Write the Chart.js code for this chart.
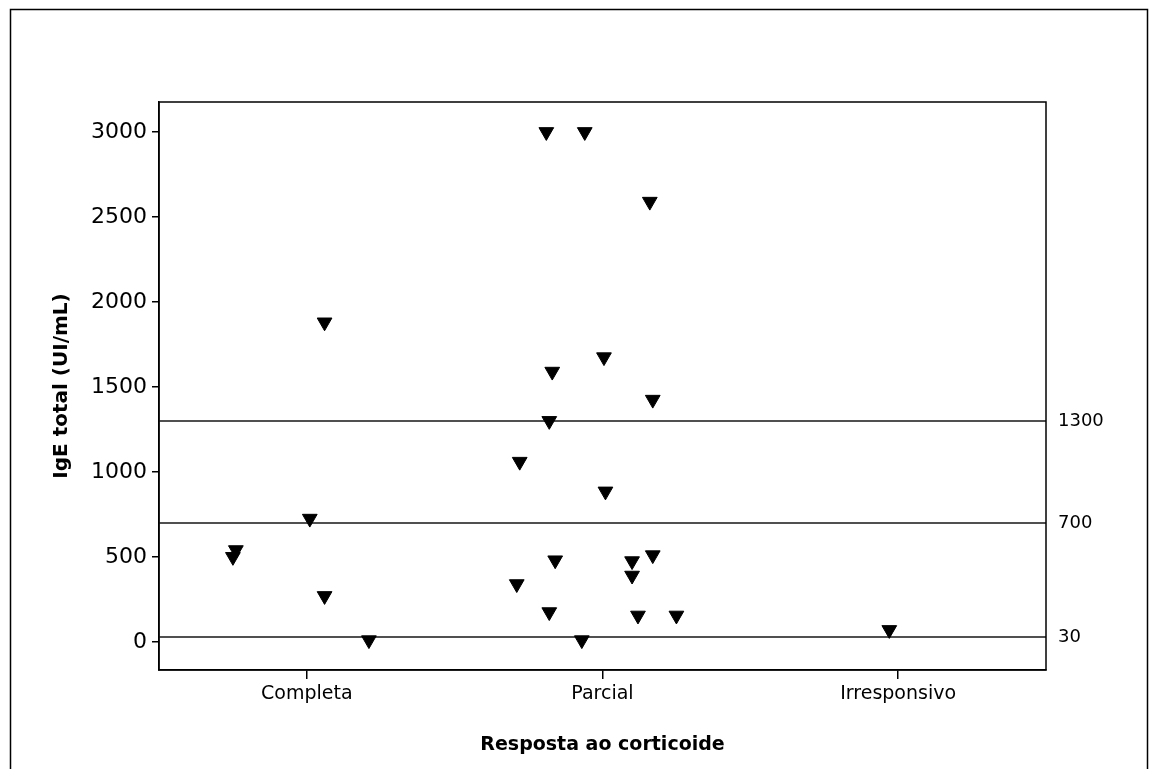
<!DOCTYPE html>
<html>
<head>
<meta charset="utf-8">
<script src="https://cdn.jsdelivr.net/npm/chart.js@4.4.0/dist/chart.umd.min.js"></script>
<style>
  body { margin: 0; background: #fff; }
  canvas { display: block; }
</style>
</head>
<body>
<canvas id="grafico" width="1156" height="769"></canvas>
<script>
// categorie e valori
const categorie = ["Completa", "Parcial", "Irresponsivo"];

const igeCompleta = [1880, 725, 540, 500, 270, 10];
const jitterCompleta = [0.06, 0.01, -0.24, -0.25, 0.06, 0.21];

const igeParcial = [3000, 3000, 2590, 1675, 1590, 1425, 1300, 1060, 885, 510, 480, 475, 390, 340, 175, 155, 155, 10];
const jitterParcial = [-0.19, -0.06, 0.16, 0.005, -0.17, 0.17, -0.18, -0.28, 0.01, 0.17, -0.16, 0.10, 0.10, -0.29, -0.18, 0.12, 0.25, -0.07];

const igeIrresponsivo = [70];
const jitterIrresponsivo = [-0.03];

const lineeRiferimento = [1300, 700, 30];
const tickY = [0, 500, 1000, 1500, 2000, 2500, 3000];

function punti(valori, jitter, indice) {
  return valori.map((v, i) => ({ x: indice + 1 + jitter[i], y: v }));
}

const stileTriangolo = {
  pointStyle: "triangle",
  rotation: 180,
  pointRadius: 8.5,
  pointHoverRadius: 8.5,
  backgroundColor: "#000",
  borderColor: "#000",
  borderWidth: 1,
};

const moldura = {
  id: "moldura",
  beforeDraw(chart) {
    const ctx = chart.ctx;
    ctx.save();
    ctx.fillStyle = "#fff";
    ctx.fillRect(0, 0, chart.width, chart.height);
    ctx.strokeStyle = "#000";
    ctx.lineWidth = 1.5;
    ctx.strokeRect(10.5, 9.5, 1137, 800);
    ctx.restore();
  },
  beforeDatasetsDraw(chart) {
    const { ctx, chartArea } = chart;
    const y = chart.scales.y;
    ctx.save();
    ctx.strokeStyle = "#505050";
    ctx.lineWidth = 2;
    ctx.fillStyle = "#000";
    ctx.font = "18px 'DejaVu Sans'";
    ctx.textBaseline = "middle";
    ctx.textAlign = "left";
    lineeRiferimento.forEach((v) => {
      const py = Math.round(y.getPixelForValue(v));
      ctx.beginPath();
      ctx.moveTo(chartArea.left, py);
      ctx.lineTo(chartArea.right, py);
      ctx.stroke();
      ctx.fillText(String(v), chartArea.right + 12, py);
    });
    ctx.restore();
  },
  afterDraw(chart) {
    const { ctx, chartArea } = chart;
    ctx.save();
    ctx.strokeStyle = "#000";
    ctx.lineWidth = 1.5;
    ctx.strokeRect(chartArea.left, chartArea.top, chartArea.right - chartArea.left, chartArea.bottom - chartArea.top);
    ctx.restore();
  },
};

const ctx = document.getElementById("grafico").getContext("2d");

new Chart(ctx, {
  type: "scatter",
  data: {
    datasets: [
      Object.assign({ data: punti(igeCompleta, jitterCompleta, 0) }, stileTriangolo),
      Object.assign({ data: punti(igeParcial, jitterParcial, 1) }, stileTriangolo),
      Object.assign({ data: punti(igeIrresponsivo, jitterIrresponsivo, 2) }, stileTriangolo),
    ],
  },
  options: {
    responsive: false,
    animation: false,
    devicePixelRatio: 1,
    layout: { padding: { left: 0, top: 102, right: 110, bottom: 0 } },
    plugins: { legend: { display: false }, tooltip: { enabled: false } },
    scales: {
      x: {
        type: "linear",
        min: 0.5,
        max: 3.5,
        afterBuildTicks: (s) => { s.ticks = categorie.map((c, i) => ({ value: i + 1 })); },
        afterFit: (s) => { s.height = 99; },
        ticks: {
          callback: (v) => categorie[Math.round(v) - 1],
          color: "#000",
          font: { family: "DejaVu Sans", size: 19 },
          padding: 4,
          maxRotation: 0,
          autoSkip: false,
        },
        grid: { drawOnChartArea: false, drawTicks: true, tickLength: 9, color: "#000", lineWidth: 1.5 },
        border: { display: true, color: "#000", width: 1.5 },
        title: {
          display: true,
          text: "Resposta ao corticoide",
          color: "#000",
          font: { family: "DejaVu Sans", size: 19, weight: "bold" },
          padding: { top: 0, bottom: 13 },
        },
      },
      y: {
        min: -166,
        max: 3176,
        afterBuildTicks: (s) => { s.ticks = tickY.map((v) => ({ value: v })); },
        afterFit: (s) => { s.width = 159; },
        ticks: {
          callback: (v) => String(v),
          color: "#000",
          font: { family: "DejaVu Sans", size: 22 },
          padding: 5,
        },
        grid: { drawOnChartArea: false, drawTicks: true, tickLength: 7, color: "#000", lineWidth: 1.5 },
        border: { display: true, color: "#000", width: 1.5 },
        title: {
          display: true,
          text: "IgE total (UI/mL)",
          color: "#000",
          font: { family: "DejaVu Sans", size: 20, weight: "bold" },
          padding: { top: 50, bottom: 0 },
        },
      },
    },
  },
  plugins: [moldura],
});
</script>
</body>
</html>
